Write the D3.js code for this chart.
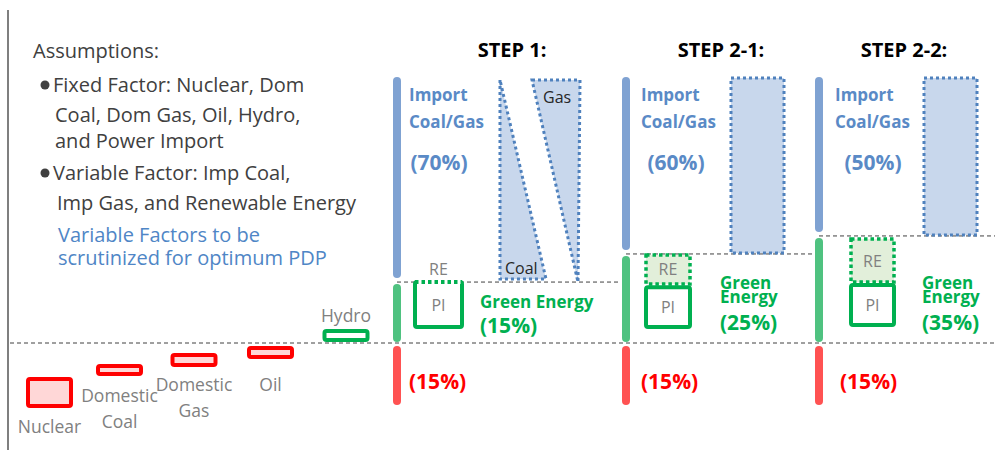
<!DOCTYPE html>
<html>
<head>
<meta charset="utf-8">
<script src="https://cdn.jsdelivr.net/npm/d3@7"></script>
<style>
body { margin: 0; background: #fff; }
svg { display: block; }
text { font-family: "Open Sans", sans-serif; }
</style>
</head>
<body>
<svg id="chart" width="1004" height="450"></svg>
<script>
(function(){
// fixed factors, levels relative to the zero line (import top = 100)
var fixedNames = [['Nuclear'], ['Domestic', 'Coal'], ['Domestic', 'Gas'], ['Oil'], ['Hydro']]
var fixedLow  = [-23.8, -11.7, -8.3, -5.3, 1.1]
var fixedHigh = [-13.6, -8.7, -4.5, -1.9, 4.5]
var fixedKind = ['red', 'red', 'red', 'red', 'green']

// scenario steps
var steps = ['STEP 1:', 'STEP 2-1:', 'STEP 2-2:']
var importShare = ['(70%)', '(60%)', '(50%)']
var greenShare = ['(15%)', '(25%)', '(35%)']
var fixedShare = ['(15%)', '(15%)', '(15%)']
var greenTop = [23, 33.6, 40.4]
var importTop = 100
var fixedBottom = -23.4
var piLow = [6, 6, 6.8]
var piHigh = [23, 21, 21.9]
var reLow = [23, 22.3, 23]
var reHigh = [23, 33.2, 39.2]

// assumption notes
var notes = ['Assumptions:', 'Fixed Factor: Nuclear, Dom', 'Coal, Dom Gas, Oil, Hydro,', 'and Power Import',
             'Variable Factor: Imp Coal,', 'Imp Gas, and Renewable Energy', 'Variable Factors to be', 'scrutinized for optimum PDP']

// layout
var noteX = [33, 53, 55, 55, 53, 57, 58, 58]
var noteY = [58, 92, 122, 148, 180, 210, 242, 265]
var labelDy = [25, 26, 24, 32, -7]
var titleX = [512, 721, 904]
var importDx = [12, 15, 16]
var shareDx = [42, 50, 54]
var greenDx = [83, 94, 103]
var redDx = [12, 15, 21]
var piDx = [[18, 65], [20, 64], [32, 75]]

var blueBar = '#7fa2d2', blueText = '#5a8ac6', blueDot = '#4f81bd', blueFill = '#c8d7ec'
var greenBar = '#4fc280', green = '#00b050', reFill = '#e2efda'
var red = '#ff0000', redBar = '#ff5252', grey = '#808080'

var svg = d3.select('#chart')
var y = d3.scaleLinear().domain([0, 100]).range([343, 78])
var xFixed = d3.scaleOrdinal().domain(d3.range(fixedNames.length)).range([49.5, 119.5, 194, 270.5, 346])
var xStep = d3.scaleOrdinal().domain(steps).range([397, 626, 819])

// left frame line
svg.append('line').attr('x1', 8).attr('x2', 8).attr('y1', 10).attr('y2', 450)
    .attr('stroke', '#7f7f7f').attr('stroke-width', 2)

// zero line
svg.append('line').attr('x1', 10).attr('x2', 995).attr('y1', y(0)).attr('y2', y(0))
    .attr('stroke', '#404040').attr('stroke-dasharray', '4,3')

// notes
var g = svg.append('g')
g.selectAll('text.note').data(notes).enter().append('text')
    .attr('class', 'note')
    .attr('x', (d, i) => noteX[i]).attr('y', (d, i) => noteY[i])
    .attr('fill', (d, i) => i >= 6 ? '#4f86c6' : '#404040')
    .style('font-size', '20px')
    .text(d => d)
g.selectAll('circle.bullet').data([1, 4]).enter().append('circle')
    .attr('cx', 45).attr('cy', d => noteY[d] - 7).attr('r', 4.5).attr('fill', '#404040')

// fixed factor boxes
var fx = svg.append('g')
fixedNames.forEach(function(name, i) {
    var isRed = fixedKind[i] === 'red'
    var cx = xFixed(i)
    fx.append('rect')
        .attr('x', cx - 21.5).attr('width', 43)
        .attr('y', y(fixedHigh[i])).attr('height', y(fixedLow[i]) - y(fixedHigh[i]))
        .attr('rx', 2)
        .attr('fill', isRed ? '#ffd7d7' : '#fff')
        .attr('stroke', isRed ? red : green).attr('stroke-width', 4)
    var base = labelDy[i] > 0 ? y(fixedLow[i]) + 2 + labelDy[i] : y(fixedHigh[i]) - 2 + labelDy[i]
    var t = fx.append('text').attr('x', cx).attr('y', base)
        .attr('text-anchor', 'middle').attr('fill', grey).style('font-size', '17.5px')
    name.forEach(function(line, j) {
        t.append('tspan').attr('x', cx).attr('dy', j === 0 ? 0 : 26).text(line)
    })
})

// steps
steps.forEach(function(s, i) {
    var x0 = xStep(s)
    var lvl = greenTop[i]
    var gs = svg.append('g')

    gs.append('text').attr('x', titleX[i]).attr('y', 57).attr('text-anchor', 'middle')
        .attr('fill', '#000').style('font-size', '20px').style('font-weight', 'bold').text(s)

    // level line where import starts
    var xEnd = i < steps.length - 1 ? xStep(steps[i + 1]) - 6 : 995
    gs.append('line').attr('x1', x0).attr('x2', xEnd).attr('y1', y(lvl)).attr('y2', y(lvl))
        .attr('stroke', '#404040').attr('stroke-dasharray', '4,3')

    // share bars
    var bars = [
        {a: y(importTop) + 3, b: y(lvl) - 8, c: blueBar},
        {a: y(lvl) + 6, b: y(0) - 5, c: greenBar},
        {a: y(0) + 7, b: y(fixedBottom) - 4, c: redBar}
    ]
    gs.selectAll('line.bar').data(bars).enter().append('line')
        .attr('class', 'bar')
        .attr('x1', x0).attr('x2', x0).attr('y1', d => d.a).attr('y2', d => d.b)
        .attr('stroke', d => d.c).attr('stroke-width', 8).attr('stroke-linecap', 'round')

    // import labels
    var tx = x0 + importDx[i]
    var imp = gs.append('text').attr('x', tx).attr('y', 101).attr('fill', blueText)
        .style('font-size', '17px').style('font-weight', 'bold')
    imp.append('tspan').attr('x', tx).text('Import')
    imp.append('tspan').attr('x', tx).attr('dy', 27).text('Coal/Gas')
    gs.append('text').attr('x', x0 + shareDx[i]).attr('y', 170).attr('text-anchor', 'middle').attr('fill', blueText)
        .style('font-size', '21px').style('font-weight', 'bold').text(importShare[i])

    // import coal / gas shapes
    var top = y(importTop) + 2, bot = y(lvl) - 3
    if (i === 0) {
        var coal = [[x0 + 103, top], [x0 + 103, bot], [x0 + 149, bot]]
        var gas = [[x0 + 135, top], [x0 + 183, top], [x0 + 181, bot + 3]]
        gs.selectAll('path.tri').data([coal, gas]).enter().append('path')
            .attr('class', 'tri')
            .attr('d', d => d3.line()(d) + 'Z')
            .attr('fill', blueFill).attr('stroke', blueDot).attr('stroke-width', 3)
            .attr('stroke-dasharray', '3,3')
        gs.append('text').attr('x', x0 + 108).attr('y', y(lvl) - 8).attr('fill', '#262626')
            .style('font-size', '16px').text('Coal')
        gs.append('text').attr('x', x0 + 146).attr('y', 103).attr('fill', '#262626')
            .style('font-size', '16px').text('Gas')
    } else {
        gs.append('rect').attr('x', x0 + 105).attr('width', 53)
            .attr('y', y(importTop)).attr('height', y(lvl) - 1 - y(importTop))
            .attr('fill', blueFill).attr('stroke', blueDot).attr('stroke-width', 3)
            .attr('stroke-dasharray', '3,3')
    }

    // PI and RE boxes
    var px0 = x0 + piDx[i][0], px1 = x0 + piDx[i][1]
    gs.append('rect').attr('x', px0).attr('width', px1 - px0)
        .attr('y', y(piHigh[i])).attr('height', y(piLow[i]) - y(piHigh[i]))
        .attr('rx', 2).attr('fill', '#fff').attr('stroke', green).attr('stroke-width', 4)
    gs.append('text').attr('x', (px0 + px1) / 2).attr('y', (y(piHigh[i]) + y(piLow[i])) / 2 + 6)
        .attr('text-anchor', 'middle').attr('fill', grey).style('font-size', '16px').text('PI')
    if (reHigh[i] > reLow[i]) {
        gs.append('rect').attr('x', px0).attr('width', px1 - px0)
            .attr('y', y(reHigh[i])).attr('height', y(reLow[i]) - y(reHigh[i]))
            .attr('fill', reFill).attr('stroke', green).attr('stroke-width', 3.5)
            .attr('stroke-dasharray', '3.5,3')
        gs.append('text').attr('x', (px0 + px1) / 2).attr('y', (y(reHigh[i]) + y(reLow[i])) / 2 + 6)
            .attr('text-anchor', 'middle').attr('fill', grey).style('font-size', '16px').text('RE')
    } else {
        gs.append('line').attr('x1', px0).attr('x2', px1).attr('y1', y(reHigh[i])).attr('y2', y(reHigh[i]))
            .attr('stroke', '#fff').attr('stroke-width', 4)
        gs.append('line').attr('x1', px0).attr('x2', px1).attr('y1', y(reHigh[i])).attr('y2', y(reHigh[i]))
            .attr('stroke', green).attr('stroke-width', 4).attr('stroke-dasharray', '3.5,3')
        gs.append('text').attr('x', (px0 + px1) / 2).attr('y', y(reHigh[i]) - 7)
            .attr('text-anchor', 'middle').attr('fill', grey).style('font-size', '16px').text('RE')
    }

    // green energy label
    var gx = x0 + greenDx[i]
    var ge = gs.append('text').attr('fill', green).style('font-weight', 'bold')
    if (i === 0) {
        ge.attr('x', gx).attr('y', 308).style('font-size', '17px').text('Green Energy')
        gs.append('text').attr('x', gx).attr('y', 333).attr('fill', green)
            .style('font-size', '21px').style('font-weight', 'bold').text(greenShare[i])
    } else {
        ge.attr('x', gx).attr('y', 289).style('font-size', '17px')
        ge.append('tspan').attr('x', gx).text('Green')
        ge.append('tspan').attr('x', gx).attr('dy', 14).text('Energy')
        gs.append('text').attr('x', gx).attr('y', 330).attr('fill', green)
            .style('font-size', '21px').style('font-weight', 'bold').text(greenShare[i])
    }

    // fixed factor share
    gs.append('text').attr('x', x0 + redDx[i]).attr('y', 389).attr('fill', red)
        .style('font-size', '21px').style('font-weight', 'bold').text(fixedShare[i])
})
})()
</script>
</body>
</html>
